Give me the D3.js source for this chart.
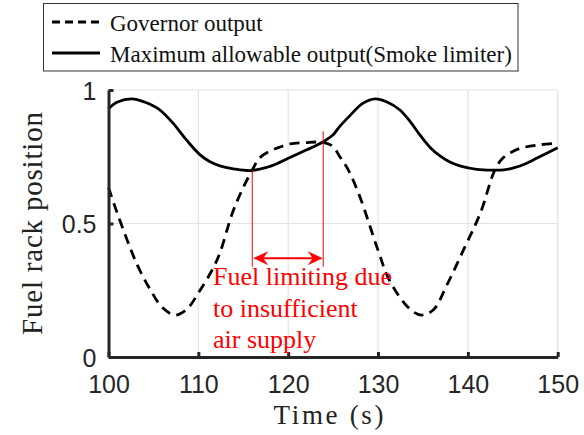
<!DOCTYPE html>
<html>
<head>
<meta charset="utf-8">
<script src="https://cdn.jsdelivr.net/npm/d3@7"></script>
<style>
  html, body { margin: 0; padding: 0; background: #fff; }
  svg { display: block; }
</style>
</head>
<body>
<svg id="chart" width="584" height="435"></svg>
<script>
// ---- data ----
const xTicks = [100, 110, 120, 130, 140, 150];
const yTicks = [0, 0.5, 1];
const yTickLabels = ["0", "0.5", "1"];

const govTime = [100,100.7,102,103.2,104.6,106,107.4,108.7,110.1,111.6,112.4,113.8,115,116,116.8,118,119,120.2,122,123.5,124.3,125,125.75,126.7,128,130,131.3,133.6,134.85,136.2,137.6,139.5,141.4,143,143.9,145,146.1,148,150];
const govValue = [0.635,0.565,0.445,0.345,0.255,0.185,0.157,0.178,0.245,0.33,0.39,0.54,0.635,0.70,0.745,0.772,0.785,0.798,0.803,0.805,0.80,0.788,0.75,0.70,0.598,0.40,0.285,0.178,0.157,0.178,0.265,0.40,0.54,0.70,0.745,0.77,0.784,0.795,0.80];

const limTime = [100,101,102.6,104,105.7,107.2,108.7,110.2,111.3,112.4,113.9,115.75,117.6,119,120.2,122,123,124,125,125.7,126.9,128.3,129.7,131,132.4,133.5,134.7,135.8,136.9,138,139.1,141,142.8,144,145.1,146.5,147.7,150];
const limValue = [0.93,0.955,0.967,0.955,0.926,0.875,0.812,0.757,0.731,0.716,0.705,0.698,0.71,0.728,0.747,0.775,0.79,0.808,0.832,0.862,0.905,0.95,0.967,0.955,0.926,0.885,0.83,0.785,0.753,0.73,0.716,0.703,0.70,0.701,0.708,0.725,0.745,0.784];

const seriesNames = ["Governor output", "Maximum allowable output(Smoke limiter)"];
const xLabel = "Time (s)";
const yLabel = "Fuel rack position";
const noteLines = ["Fuel limiting due", "to insufficient", "air supply"];
const noteTimes = [116, 123.9];
const noteTops = [0.70, 0.845];
const noteBottom = 0.338;
const noteArrow = 0.37;

// ---- layout ----
const svg = d3.select("#chart");
const x = d3.scaleLinear().domain([100, 150]).range([108.5, 557.7]);
const y = d3.scaleLinear().domain([0, 1]).range([357, 90]);
const axisColor = "#262626";

// grid
const grid = svg.append("g");
grid.selectAll("line.vx").data(xTicks.slice(1)).join("line")
  .attr("x1", d => x(d)).attr("x2", d => x(d))
  .attr("y1", y(0)).attr("y2", y(1))
  .attr("stroke", "#e3e3e3").attr("stroke-width", 1.2);
grid.selectAll("line.hy").data(yTicks.slice(1)).join("line")
  .attr("x1", x(100)).attr("x2", x(150))
  .attr("y1", d => y(d)).attr("y2", d => y(d))
  .attr("stroke", "#e3e3e3").attr("stroke-width", 1.2);

// lines
const govData = govTime.map((t, i) => [t, govValue[i]]);
const limData = limTime.map((t, i) => [t, limValue[i]]);
const line = d3.line().x(d => x(d[0])).y(d => y(d[1])).curve(d3.curveCatmullRom.alpha(0.5));

svg.append("path").datum(limData).attr("d", line)
  .attr("fill", "none").attr("stroke", "#000").attr("stroke-width", 2.8);
svg.append("path").datum(govData).attr("d", line)
  .attr("fill", "none").attr("stroke", "#000").attr("stroke-width", 2.8)
  .attr("stroke-dasharray", "10,6.5");

// axes
const xAxis = d3.axisBottom(x).tickValues(xTicks).tickSizeInner(-5).tickSizeOuter(0).tickPadding(19);
const yAxis = d3.axisLeft(y).tickValues(yTicks).tickFormat((d, i) => yTickLabels[i]).tickSizeInner(-5).tickSizeOuter(0).tickPadding(12);

const gx = svg.append("g").attr("transform", `translate(0,${y(0)})`).call(xAxis);
const gy = svg.append("g").attr("transform", `translate(${x(100)},0)`).call(yAxis);
[gx, gy].forEach(g => {
  g.select(".domain").attr("stroke", axisColor).attr("stroke-width", 3);
  g.selectAll(".tick line").attr("stroke", axisColor).attr("stroke-width", 3);
  g.selectAll(".tick text").attr("fill", axisColor)
    .style("font-family", "'Liberation Sans', Arial, sans-serif").style("font-size", "25px");
});
gx.selectAll(".tick text").attr("dy", "0.68em");
gy.selectAll(".tick text").attr("dy", "0.36em");

// axis labels
svg.append("text").text(xLabel)
  .attr("x", 328.5).attr("y", 424).attr("text-anchor", "middle")
  .attr("textLength", 110)
  .style("font-family", "'Liberation Serif', 'Times New Roman', serif").style("font-size", "27px")
  .attr("fill", "#222");
svg.append("text").text(yLabel)
  .attr("transform", "translate(42,223.5) rotate(-90)")
  .attr("text-anchor", "middle").attr("textLength", 223)
  .style("font-family", "'Liberation Serif', 'Times New Roman', serif").style("font-size", "29px")
  .attr("fill", "#222");

// annotation
const red = "#ff0000";
const ann = svg.append("g");
noteTimes.forEach((t, i) => {
  ann.append("line").attr("x1", x(t)).attr("x2", x(t))
    .attr("y1", y(noteTops[i])).attr("y2", y(noteBottom))
    .attr("stroke", red).attr("stroke-width", 1);
});
const ax1 = x(noteTimes[0]) + 1, ax2 = x(noteTimes[1]) - 0.5, ay = y(noteArrow);
ann.append("line").attr("x1", ax1 + 8).attr("x2", ax2 - 8).attr("y1", ay).attr("y2", ay)
  .attr("stroke", red).attr("stroke-width", 2);
const head = (tx, dir) => `M${tx},${ay} L${tx + dir * 15},${ay - 7} L${tx + dir * 10},${ay} L${tx + dir * 15},${ay + 7} Z`;
ann.append("path").attr("d", head(ax1, 1)).attr("fill", red);
ann.append("path").attr("d", head(ax2, -1)).attr("fill", red);
const noteY = [285, 316.5, 348];
noteLines.forEach((s, i) => {
  ann.append("text").text(s).attr("x", 213).attr("y", noteY[i])
    .style("font-family", "'Liberation Serif', 'Times New Roman', serif").style("font-size", "26px")
    .attr("fill", red);
});

// legend
const leg = svg.append("g");
leg.append("rect").attr("x", 43.5).attr("y", 3.5).attr("width", 474.5).attr("height", 67.5)
  .attr("fill", "#fff").attr("stroke", "#333").attr("stroke-width", 1);
const legY = [22, 53];
const legBase = [31, 62];
leg.append("line").attr("x1", 52).attr("x2", 100).attr("y1", legY[0]).attr("y2", legY[0])
  .attr("stroke", "#000").attr("stroke-width", 3).attr("stroke-dasharray", "8,5");
leg.append("line").attr("x1", 52).attr("x2", 100).attr("y1", legY[1]).attr("y2", legY[1])
  .attr("stroke", "#000").attr("stroke-width", 3);
seriesNames.forEach((s, i) => {
  leg.append("text").text(s).attr("x", 110).attr("y", legBase[i])
    .style("font-family", "'Liberation Serif', 'Times New Roman', serif").style("font-size", "23px")
    .attr("fill", "#111");
});
</script>
</body>
</html>
